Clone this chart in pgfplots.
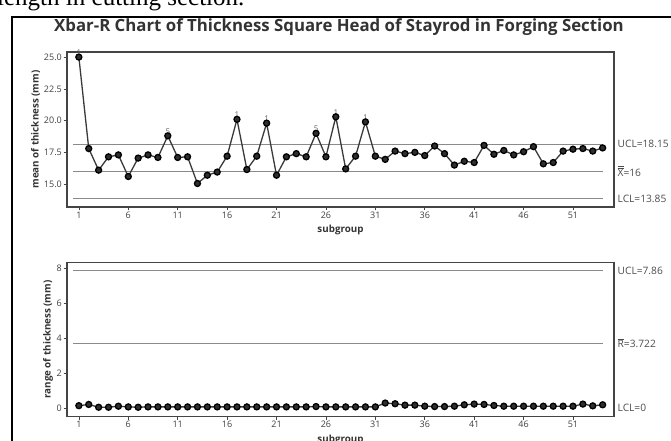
\documentclass[border=0pt]{standalone}
\usepackage{fontspec}
\setmainfont{Open Sans}
\newfontfamily\timesf{Liberation Serif}
\usepackage{pgfplots}
\pgfplotsset{compat=1.18}
\usepackage{pgfplotstable}

\pgfplotstableread{
i m r
1 25.0 0.15
2 17.8 0.22
3 16.1 0.06
4 17.15 0.06
5 17.3 0.12
6 15.6 0.08
7 17.05 0.06
8 17.3 0.08
9 17.1 0.08
10 18.8 0.08
11 17.1 0.08
12 17.15 0.08
13 15.05 0.08
14 15.7 0.08
15 15.95 0.08
16 17.2 0.08
17 20.1 0.08
18 16.15 0.08
19 17.2 0.08
20 19.8 0.08
21 15.7 0.08
22 17.15 0.08
23 17.4 0.08
24 17.15 0.08
25 19.0 0.1
26 17.15 0.08
27 20.3 0.08
28 16.2 0.08
29 17.2 0.08
30 19.9 0.08
31 17.2 0.08
32 16.95 0.3
33 17.6 0.26
34 17.4 0.18
35 17.5 0.18
36 17.25 0.12
37 18.0 0.1
38 17.4 0.1
39 16.5 0.12
40 16.8 0.2
41 16.7 0.24
42 18.05 0.22
43 17.35 0.16
44 17.65 0.12
45 17.3 0.12
46 17.55 0.12
47 17.95 0.12
48 16.6 0.12
49 16.7 0.12
50 17.6 0.12
51 17.75 0.12
52 17.8 0.24
53 17.6 0.14
54 17.85 0.2
}\data

\definecolor{frame}{HTML}{444444}
\definecolor{ctrl}{HTML}{8A8A8A}
\definecolor{ser}{HTML}{3A3A3A}
\definecolor{ann}{HTML}{6A6A6A}

\newcommand{\barX}{\rlap{\raisebox{0.8em}{\rule{0.58em}{0.45pt}}}\rlap{\raisebox{0.92em}{\rule{0.58em}{0.45pt}}}X}
\newcommand{\barR}{\rlap{\raisebox{0.82em}{\rule{0.58em}{0.45pt}}}R}

\tikzset{
  rlab/.style={anchor=west, font=\fontsize{10.2}{11}\selectfont, text=black!70, inner sep=0pt},
  annlab/.style={font=\fontsize{8}{8}\selectfont, text=ann, inner sep=0pt, yshift=4.5pt},
}
\pgfplotsset{
  spc/.style={
    scale only axis, anchor=south west,
    width=547pt, height=155pt,
    xmin=-0.2, xmax=55.15,
    xtick={1,6,...,51},
    tick pos=left, tick align=outside,
    major tick length=3.5pt,
    axis line style={frame, line width=1.1pt},
    tick style={frame, line width=0.6pt},
    ticklabel style={font=\fontsize{9}{9}\selectfont, text=black!75},
    xticklabel style={inner sep=1pt},
    yticklabel style={inner sep=1.5pt},
    /pgf/number format/assume math mode=true,
    label style={font=\bfseries\fontsize{9.8}{10}\selectfont, text=black!80},
    xlabel style={at={(rel axis cs:0.5,0)}, anchor=center, yshift=-23pt},
    ylabel style={inner sep=2pt},
    clip=false,
  },
  ctrlline/.style={ctrl, line width=0.9pt, no marks},
}

\begin{document}
\begin{tikzpicture}
\begin{scope}
\clip (0pt,0pt) rectangle (671pt,441pt);
\node[anchor=base west, inner sep=0pt, font=\timesf\fontsize{25}{25}\selectfont] at (-3pt,435pt) {length in cutting section.};
\draw[black, line width=1.3pt] (12pt,-5pt) -- (12pt,424pt) -- (680pt,424pt);
\end{scope}

\node[font=\bfseries\fontsize{16.8}{17}\selectfont, text=black!80] at (339pt,413.5pt) {Xbar-R Chart of Thickness Square Head of Stayrod in Forging Section};

\begin{axis}[spc, at={(67pt,234pt)},
  ymin=13.2, ymax=25.4,
  ytick={15,17.5,20,22.5,25},
  yticklabel style={/pgf/number format/fixed, /pgf/number format/fixed zerofill, /pgf/number format/precision=1},
  xlabel={subgroup}, ylabel={mean of thickness (mm)}]
\addplot[ctrlline] coordinates {(0.4,18.15) (54,18.15)};
\addplot[ctrlline] coordinates {(0.4,16) (54,16)};
\addplot[ctrlline] coordinates {(0.4,13.85) (54,13.85)};
\addplot[ser, line width=1.3pt, mark=*, mark size=3pt, mark options={fill=ser!80!black, draw=black}] table[x=i, y=m] {\data};
\node[rlab] at (axis cs:55.5,18.15) {UCL=18.15};
\node[rlab] at (axis cs:55.5,16) {\barX=16};
\node[rlab] at (axis cs:55.5,13.85) {LCL=13.85};
\node[annlab] at (axis cs:1,25.0) {1};
\node[annlab] at (axis cs:10,18.8) {5};
\node[annlab] at (axis cs:17,20.1) {1};
\node[annlab] at (axis cs:20,19.8) {1};
\node[annlab] at (axis cs:25,19.0) {5};
\node[annlab] at (axis cs:27,20.3) {1};
\node[annlab] at (axis cs:30,19.9) {1};
\end{axis}

\begin{axis}[spc, at={(67pt,24.3pt)}, height=154.4pt,
  ymin=-0.48, ymax=8.34,
  ytick={0,2,4,6,8},
  xlabel={subgroup}, ylabel={range of thickness (mm)}]
\addplot[ctrlline] coordinates {(0.4,7.86) (54,7.86)};
\addplot[ctrlline] coordinates {(0.4,3.722) (54,3.722)};
\addplot[ser, line width=1.3pt, mark=*, mark size=3pt, mark options={fill=ser!80!black, draw=black}] table[x=i, y=r] {\data};
\node[rlab] at (axis cs:55.5,7.86) {UCL=7.86};
\node[rlab] at (axis cs:55.5,3.722) {\barR=3.722};
\node[rlab] at (axis cs:55.5,0) {LCL=0};
\end{axis}
\pgfresetboundingbox
\path (0pt,0pt) rectangle (671pt,441pt);
\end{tikzpicture}
\end{document}
